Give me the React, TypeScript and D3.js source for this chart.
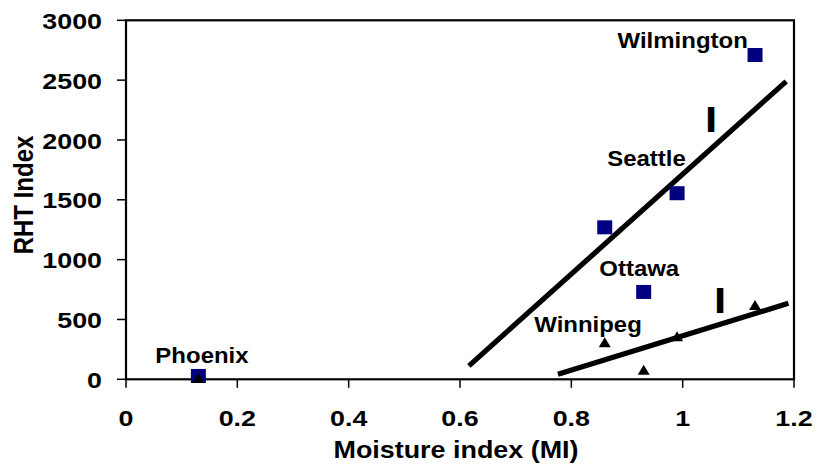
import React from "react";
import * as d3 from "d3";

// ---- data ----
const squareX = [0.13, 0.86, 0.93, 0.99, 1.13];
const squareY = [28, 1270, 730, 1555, 2710];
const triangleX = [0.13, 0.86, 0.93, 0.99, 1.13];
const triangleY = [10, 310, 80, 360, 620];
const lineI = [[0.616, 112], [1.186, 2490]];
const lineII = [[0.776, 42], [1.19, 635]];
const xTicks = [0, 0.2, 0.4, 0.6, 0.8, 1, 1.2];
const yTicks = [0, 500, 1000, 1500, 2000, 2500, 3000];
const cityNames = ["Wilmington", "Seattle", "Ottawa", "Winnipeg", "Phoenix"];
const cityX = [1.0, 0.935, 0.922, 0.83, 0.1365];
const cityY = [2772, 1782, 865, 398, 134];
const romanText = ["I", "I"];
const romanX = [1.051, 1.067];
const romanY = [2066, 554];
const xTitle = "Moisture index (MI)";
const yTitle = "RHT Index";

const W = 820;
const H = 471;
const FONT = "'Liberation Sans', Arial, Helvetica, sans-serif";

export default function App() {
  const x = d3.scaleLinear().domain([0, 1.2]).range([126, 794]);
  const y = d3.scaleLinear().domain([0, 3000]).range([379.3, 20.3]);
  const line = d3
    .line<number[]>()
    .x((d) => x(d[0]))
    .y((d) => y(d[1]));
  const sqW = 15;
  const sqH = 14;
  const triW = 12;
  const triH = 10;
  const tickFmt = (v: number) => d3.format("~g")(v);

  return (
    <svg
      width={W}
      height={H}
      style={{ position: "absolute", left: 0, top: 0, background: "#fff" }}
      fontFamily={FONT}
      fontWeight="bold"
    >
      <rect width={W} height={H} fill="#fff" />
      {/* frame */}
      <rect
        x={x(0)}
        y={y(3000)}
        width={x(1.2) - x(0)}
        height={y(0) - y(3000)}
        fill="none"
        stroke="#000"
        strokeWidth={2.2}
      />
      {/* y ticks */}
      {yTicks.map((t) => (
        <g key={"yt" + t}>
          <line x1={x(0) - 9} x2={x(0)} y1={y(t)} y2={y(t)} stroke="#000" strokeWidth={1.5} />
          <g transform={`translate(${x(0) - 24},${y(t) + 8.6}) scale(1.22,1)`}>
            <text textAnchor="end" fontSize={22} fill="#000">
              {tickFmt(t)}
            </text>
          </g>
        </g>
      ))}
      {/* x ticks */}
      {xTicks.map((t) => (
        <g key={"xt" + t}>
          <line x1={x(t)} x2={x(t)} y1={y(0)} y2={y(0) + 8.5} stroke="#000" strokeWidth={1.5} />
          <g transform={`translate(${x(t)},${y(0) + 46.5}) scale(1.22,1)`}>
            <text textAnchor="middle" fontSize={22} fill="#000">
              {tickFmt(t)}
            </text>
          </g>
        </g>
      ))}
      {/* axis titles */}
      <g transform={`translate(456,458) scale(1.17,1)`}>
        <text textAnchor="middle" fontSize={23} fill="#000">
          {xTitle}
        </text>
      </g>
      <g transform={`translate(33,195) rotate(-90) scale(1,1.15)`}>
        <text textAnchor="middle" fontSize={24} fill="#000">
          {yTitle}
        </text>
      </g>
      {/* trend lines */}
      <path d={line(lineI as number[][]) || ""} stroke="#000" strokeWidth={5.2} fill="none" />
      <path d={line(lineII as number[][]) || ""} stroke="#000" strokeWidth={5.2} fill="none" />
      {/* squares */}
      {squareX.map((v, i) => (
        <rect
          key={"sq" + i}
          x={x(v) - sqW / 2}
          y={y(squareY[i]) - sqH / 2}
          width={sqW}
          height={sqH}
          fill="#000080"
        />
      ))}
      {/* triangles */}
      {triangleX.map((v, i) => {
        const cx = x(v);
        const cy = y(triangleY[i]);
        return (
          <path
            key={"tr" + i}
            d={`M${cx},${cy - triH / 2}L${cx + triW / 2},${cy + triH / 2}L${cx - triW / 2},${cy + triH / 2}Z`}
            fill="#000"
          />
        );
      })}
      {/* city labels */}
      {cityNames.map((n, i) => (
        <g key={"c" + i} transform={`translate(${x(cityX[i])},${y(cityY[i])}) scale(1.09,1)`}>
          <text textAnchor="middle" fontSize={22} fill="#000">
            {n}
          </text>
        </g>
      ))}
      {/* roman numerals */}
      {romanText.map((r, i) => (
        <text
          key={"r" + i}
          x={x(romanX[i])}
          y={y(romanY[i])}
          textAnchor="middle"
          fontSize={34}
          fontFamily="'DejaVu Sans', sans-serif"
          fill="#000"
        >
          {r}
        </text>
      ))}
    </svg>
  );
}
